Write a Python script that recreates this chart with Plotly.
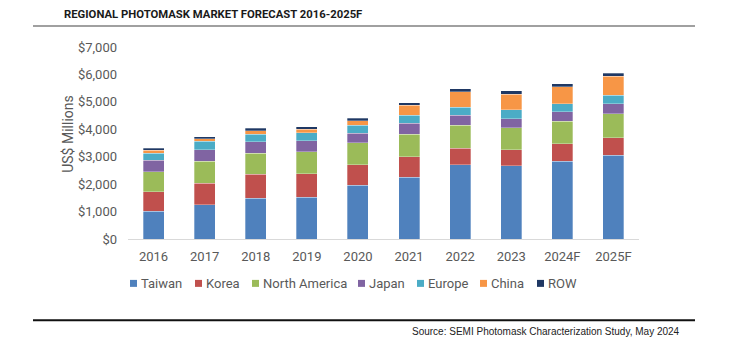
import plotly.graph_objects as go

years = ["2016", "2017", "2018", "2019", "2020", "2021", "2022", "2023", "2024F", "2025F"]
taiwan = [1010, 1240, 1485, 1530, 1960, 2250, 2710, 2670, 2840, 3050]
korea = [715, 800, 870, 850, 750, 750, 605, 580, 630, 640]
north_america = [730, 800, 780, 800, 800, 825, 825, 800, 825, 885]
japan = [410, 410, 410, 410, 350, 400, 375, 340, 340, 365]
europe = [270, 315, 280, 280, 280, 280, 290, 315, 290, 300]
china = [95, 85, 120, 130, 170, 375, 570, 580, 620, 690]
row = [85, 85, 85, 85, 85, 95, 110, 120, 120, 120]

series_names = ["Taiwan", "Korea", "North America", "Japan", "Europe", "China", "ROW"]
series_values = [taiwan, korea, north_america, japan, europe, china, row]
colors = ["#4F81BD", "#C0504D", "#9BBB59", "#8064A2", "#4BACC6", "#F79646", "#1F3864"]
y_ticks = [0, 1000, 2000, 3000, 4000, 5000, 6000, 7000]
y_tick_labels = ["$0", "$1,000", "$2,000", "$3,000", "$4,000", "$5,000", "$6,000", "$7,000"]

# pixel geometry helpers (plot area)
W, H = 729, 344
L, R, T, B = 128, 639, 47, 239.5
def px(x):
    return (x - L) / (R - L)
def py(y):
    return (B - y) / (B - T)

fig = go.Figure()
for name, vals, c in zip(series_names, series_values, colors):
    fig.add_trace(go.Bar(x=years, y=vals, name=name, marker=dict(color=c, line=dict(width=0.6, color="rgba(255,255,255,0.5)")),
                         showlegend=False))

# custom legend
legend_x = [130, 195, 252, 358, 417, 480, 537]
shapes = []
annotations = []
for name, c, lx in zip(series_names, colors, legend_x):
    shapes.append(dict(type="rect", xref="paper", yref="paper", x0=px(lx), x1=px(lx + 7),
                       y0=py(287.5), y1=py(280.5), fillcolor=c, line=dict(width=0)))
    annotations.append(dict(text=name, xref="paper", yref="paper", x=px(lx + 9), y=py(284.5),
                            xanchor="left", yanchor="middle", showarrow=False,
                            font=dict(family="Roboto", size=13, color="#595959")))

# title rule and footer rule
shapes.append(dict(type="line", xref="paper", yref="paper", x0=px(33), x1=px(695), y0=py(26), y1=py(26),
                   line=dict(color="#808080", width=1.5)))
shapes.append(dict(type="line", xref="paper", yref="paper", x0=px(33), x1=px(695), y0=py(321), y1=py(321),
                   line=dict(color="#111111", width=2)))

annotations.append(dict(text="REGIONAL PHOTOMASK MARKET FORECAST 2016-2025F", xref="paper", yref="paper",
                        x=px(62), y=py(14), xanchor="left", yanchor="middle", showarrow=False,
                        font=dict(family="Roboto", size=11.3, color="#1a1a1a", weight="bold")))
annotations.append(dict(text="US$ Millions", xref="paper", yref="paper", x=px(68), y=py(134),
                        xanchor="center", yanchor="middle", textangle=-90, showarrow=False,
                        font=dict(family="Roboto", size=14, color="#595959")))
annotations.append(dict(text="Source: SEMI Photomask Characterization Study, May 2024", xref="paper", yref="paper",
                        x=px(682), y=py(332), xanchor="right", yanchor="middle", showarrow=False,
                        font=dict(family="Liberation Sans", size=10, color="#222222")))

fig.update_layout(
    width=W, height=H,
    margin=dict(l=L, r=W - R, t=T, b=H - B),
    barmode="stack", bargap=0.59,
    plot_bgcolor="white", paper_bgcolor="white",
    shapes=shapes, annotations=annotations,
    xaxis=dict(showgrid=False, showline=True, linecolor="#d9d9d9", linewidth=1.2, ticks="",
               tickfont=dict(family="Roboto", size=13, color="#595959"), ticklabelstandoff=5),
    yaxis=dict(range=[0, 7000], tickvals=y_ticks, ticktext=y_tick_labels, showgrid=False,
               showline=False, zeroline=False, ticks="",
               tickfont=dict(family="Roboto", size=13, color="#595959"), ticklabelstandoff=10),
)

fig.write_html("out.html")
